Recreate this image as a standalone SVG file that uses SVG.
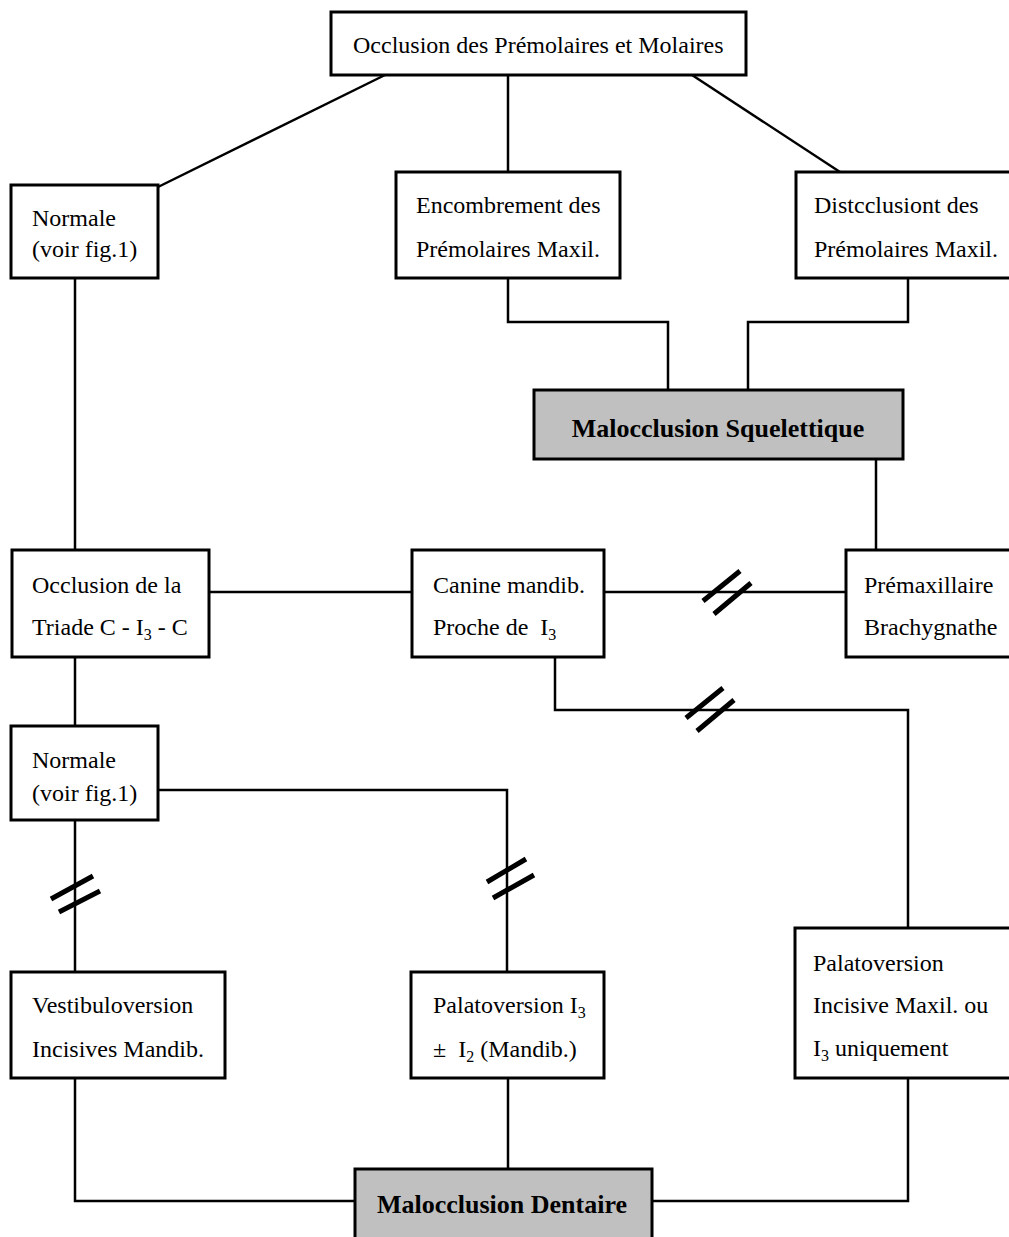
<svg xmlns="http://www.w3.org/2000/svg" width="1009" height="1237" viewBox="0 0 1009 1237">
<style>
.box{fill:#fff;stroke:#000;stroke-width:3}
.key{fill:#c0c0c0;stroke:#000;stroke-width:3}
.t{font-family:"Liberation Serif","Times New Roman",serif;font-size:24px;fill:#000}
.b{font-family:"Liberation Serif","Times New Roman",serif;font-size:26px;font-weight:bold;fill:#000;text-anchor:middle}
.sub{font-size:16px}
.c{fill:none;stroke:#000;stroke-width:2.5}
.s{stroke:#000;stroke-width:5;fill:none}
</style>
<rect width="1009" height="1237" fill="#fff"/>
<g id="connectors">
<line class="c" x1="385" y1="75" x2="158" y2="187"/>
<line class="c" x1="508" y1="75" x2="508" y2="172"/>
<line class="c" x1="692" y1="75" x2="840" y2="172"/>
<line class="c" x1="75" y1="278" x2="75" y2="550"/>
<polyline class="c" points="508,278 508,322 668,322 668,390"/>
<polyline class="c" points="908,278 908,322 748,322 748,390"/>
<line class="c" x1="876" y1="459" x2="876" y2="550"/>
<line class="c" x1="209" y1="592" x2="412" y2="592"/>
<line class="c" x1="604" y1="592" x2="846" y2="592"/>
<polyline class="c" points="555,657 555,710 908,710 908,928"/>
<line class="c" x1="75" y1="657" x2="75" y2="726"/>
<line class="c" x1="75" y1="820" x2="75" y2="972"/>
<polyline class="c" points="158,790 507,790 507,972"/>
<polyline class="c" points="75,1078 75,1201 355,1201"/>
<line class="c" x1="508" y1="1078" x2="508" y2="1169"/>
<polyline class="c" points="908,1078 908,1201 652,1201"/>
<path class="s" d="M703,601 L740,571 M714,614 L751,583"/>
<path class="s" d="M686,718 L723,688 M697,731 L734,700"/>
<path class="s" d="M51,899 L93,876 M59,912 L100,891"/>
<path class="s" d="M487,882 L526,859 M493,898 L534,875"/>
</g>
<g id="n-top">
<rect class="box" x="331" y="12" width="415" height="63"/>
<text class="t" x="353" y="53">Occlusion des Prémolaires et Molaires</text>
</g>
<g id="n-normale1">
<rect class="box" x="11" y="185" width="147" height="93"/>
<text class="t" x="32" y="226">Normale</text>
<text class="t" x="32" y="257">(voir fig.1)</text>
</g>
<g id="n-encombrement">
<rect class="box" x="396" y="172" width="224" height="106"/>
<text class="t" x="416" y="213">Encombrement des</text>
<text class="t" x="416" y="257">Prémolaires Maxil.</text>
</g>
<g id="n-distcclusion">
<rect class="box" x="796" y="172" width="240" height="106"/>
<text class="t" x="814" y="213">Distcclusiont des</text>
<text class="t" x="814" y="257">Prémolaires  Maxil.</text>
</g>
<g id="n-maloc-squel">
<rect class="key" x="534" y="390" width="369" height="69"/>
<text class="b" x="718" y="437">Malocclusion Squelettique</text>
</g>
<g id="n-triade">
<rect class="box" x="12" y="550" width="197" height="107"/>
<text class="t" x="32" y="593">Occlusion de la</text>
<text class="t" x="32" y="635">Triade C - I<tspan class="sub" dy="5">3</tspan><tspan dy="-5"> - C</tspan></text>
</g>
<g id="n-canine">
<rect class="box" x="412" y="550" width="192" height="107"/>
<text class="t" x="433" y="593">Canine mandib.</text>
<text class="t" x="433" y="635" xml:space="preserve">Proche de  I<tspan class="sub" dy="5">3</tspan></text>
</g>
<g id="n-premax">
<rect class="box" x="846" y="550" width="190" height="107"/>
<text class="t" x="864" y="593">Prémaxillaire</text>
<text class="t" x="864" y="635">Brachygnathe</text>
</g>
<g id="n-normale2">
<rect class="box" x="11" y="726" width="147" height="94"/>
<text class="t" x="32" y="768">Normale</text>
<text class="t" x="32" y="801">(voir fig.1)</text>
</g>
<g id="n-vestibulo">
<rect class="box" x="11" y="972" width="214" height="106"/>
<text class="t" x="32" y="1013">Vestibuloversion</text>
<text class="t" x="32" y="1057">Incisives Mandib.</text>
</g>
<g id="n-palato-i3">
<rect class="box" x="411" y="972" width="193" height="106"/>
<text class="t" x="433" y="1013">Palatoversion I<tspan class="sub" dy="5">3</tspan></text>
<text class="t" x="433" y="1057" xml:space="preserve">±  I<tspan class="sub" dy="5">2</tspan><tspan dy="-5"> (Mandib.)</tspan></text>
</g>
<g id="n-palato-maxil">
<rect class="box" x="795" y="928" width="240" height="150"/>
<text class="t" x="813" y="971">Palatoversion</text>
<text class="t" x="813" y="1013">Incisive Maxil. ou</text>
<text class="t" x="813" y="1056">I<tspan class="sub" dy="5">3</tspan><tspan dy="-5"> uniquement</tspan></text>
</g>
<g id="n-maloc-dent">
<rect class="key" x="355" y="1169" width="297" height="90"/>
<text class="b" x="502" y="1213">Malocclusion Dentaire</text>
</g>
</svg>
